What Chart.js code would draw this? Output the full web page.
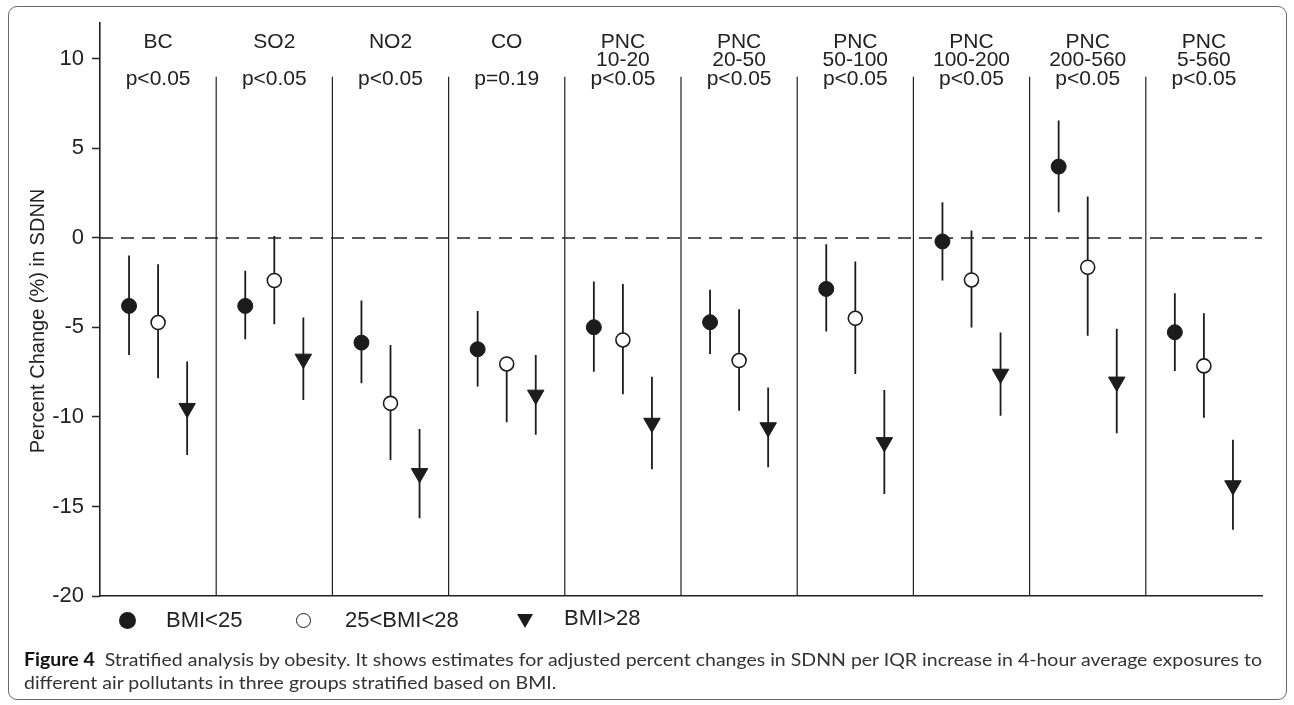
<!DOCTYPE html>
<html>
<head>
<meta charset="utf-8">
<script src="https://cdn.jsdelivr.net/npm/chart.js@4.4.1/dist/chart.umd.min.js"></script>
<style>
  html, body { margin: 0; padding: 0; background: #fff; }
  #wrap { position: relative; width: 1294px; height: 705px; overflow: hidden; background: #fff; }
  #c { position: absolute; left: 0; top: 0; }
  #frame { position: absolute; left: 8px; top: 6px; width: 1277px; height: 692px; border: 1.5px solid #6a6a6a; border-radius: 9px; pointer-events: none; }
  .lg { position: absolute; font-family: "Liberation Sans", Arial, sans-serif; font-size: 22px; color: #222; line-height: 22px; white-space: nowrap; }
  .mk { position: absolute; box-sizing: border-box; }
  .cap { position: absolute; left: 24px; font-family: Lato, "Open Sans", sans-serif; font-size: 18px; color: #333; white-space: nowrap; transform-origin: 0 50%; line-height: 20px; }
  .cap b { color: #111; }
</style>
</head>
<body>
<div id="wrap">
  <canvas id="c" width="1294" height="705"></canvas>
  <div class="mk" style="left:119px;top:612px;width:17px;height:17px;border-radius:50%;background:#1c1c1c;"></div>
  <div class="lg" style="left:166px;top:609px;">BMI&lt;25</div>
  <div class="mk" style="left:296px;top:613px;width:15px;height:15px;border-radius:50%;border:1.5px solid #1c1c1c;background:#fff;"></div>
  <div class="lg" style="left:345px;top:609px;">25&lt;BMI&lt;28</div>
  <div class="mk" style="left:517px;top:614px;width:0;height:0;border-left:8px solid transparent;border-right:8px solid transparent;border-top:14px solid #1c1c1c;"></div>
  <div class="lg" style="left:564px;top:607px;">BMI&gt;28</div>
  <div class="cap" id="cap1" style="top:649px;"><b>Figure 4</b>&nbsp; Stratified analysis by obesity. It shows estimates for adjusted percent changes in SDNN per IQR increase in 4-hour average exposures to</div>
  <div class="cap" id="cap2" style="top:672px;">different air pollutants in three groups stratified based on BMI.</div>
  <div id="frame"></div>
</div>
<script>
// ---- data ----
const pollutants = ['BC', 'SO2', 'NO2', 'CO', 'PNC', 'PNC', 'PNC', 'PNC', 'PNC', 'PNC'];
const sizeRanges = ['', '', '', '', '10-20', '20-50', '50-100', '100-200', '200-560', '5-560'];
const pValues = ['p<0.05', 'p<0.05', 'p<0.05', 'p=0.19', 'p<0.05', 'p<0.05', 'p<0.05', 'p<0.05', 'p<0.05', 'p<0.05'];
const groupLabels = ['BMI<25', '25<BMI<28', 'BMI>28'];
const yTitle = 'Percent Change (%) in SDNN';

const lowEst = [-3.8, -3.8, -5.85, -6.22, -4.99, -4.71, -2.85, -0.2, 3.98, -5.27];
const lowLo  = [-6.54, -5.66, -8.12, -8.3, -7.47, -6.48, -5.23, -2.38, 1.43, -7.43];
const lowHi  = [-0.99, -1.84, -3.5, -4.08, -2.44, -2.9, -0.35, 1.99, 6.55, -3.09];

const midEst = [-4.73, -2.38, -9.24, -7.04, -5.7, -6.85, -4.49, -2.35, -1.64, -7.15];
const midLo  = [-7.84, -4.82, -12.4, -10.3, -8.73, -9.66, -7.6, -5.01, -5.46, -10.04];
const midHi  = [-1.47, 0.1, -5.98, -6.8, -2.57, -3.98, -1.32, 0.41, 2.31, -4.21];

const highEst = [-9.51, -6.76, -13.15, -8.77, -10.34, -10.59, -11.42, -7.6, -8.04, -13.83];
const highLo  = [-12.12, -9.05, -15.66, -11.0, -12.92, -12.81, -14.3, -9.93, -10.91, -16.3];
const highHi  = [-6.9, -4.45, -10.67, -6.54, -7.75, -8.36, -8.49, -5.29, -5.08, -11.28];

const yTicks = [-20, -15, -10, -5, 0, 5, 10];
const yMin = -20, yMax = 12;
const separatorTop = 9;
const groupOffsets = [0.25, 0.5, 0.75];

// ---- build datasets ----
const INK = '#1c1c1c';
function pts(est, off) { return est.map((v, i) => ({ x: i + off, y: v })); }
function bars(lo, hi, off) {
  const out = [];
  lo.forEach((v, i) => { out.push({ x: i + off, y: v }, { x: i + off, y: hi[i] }, { x: i + off, y: null }); });
  return out;
}
const sepData = [];
for (let i = 1; i < pollutants.length; i++) {
  sepData.push({ x: i, y: separatorTop }, { x: i, y: yMin }, { x: i, y: null });
}

const datasets = [
  { label: groupLabels[0], data: pts(lowEst, groupOffsets[0]), pointStyle: 'circle', pointRadius: 7.5,
    backgroundColor: INK, borderColor: INK, borderWidth: 1, order: 0 },
  { label: groupLabels[1], data: pts(midEst, groupOffsets[1]), pointStyle: 'circle', pointRadius: 7,
    backgroundColor: '#fff', borderColor: INK, borderWidth: 1.6, order: 0 },
  { label: groupLabels[2], data: pts(highEst, groupOffsets[2]), pointStyle: 'triangle', rotation: 180, pointRadius: 9.5,
    backgroundColor: INK, borderColor: INK, borderWidth: 1, order: 0 },
  { label: 'ci1', data: bars(lowLo, lowHi, groupOffsets[0]), showLine: true, spanGaps: false, pointRadius: 0, borderColor: INK, borderWidth: 1.8, order: 1 },
  { label: 'ci2', data: bars(midLo, midHi, groupOffsets[1]), showLine: true, spanGaps: false, pointRadius: 0, borderColor: INK, borderWidth: 1.8, order: 1 },
  { label: 'ci3', data: bars(highLo, highHi, groupOffsets[2]), showLine: true, spanGaps: false, pointRadius: 0, borderColor: INK, borderWidth: 1.8, order: 1 },
  { label: 'sep', data: sepData, showLine: true, spanGaps: false, pointRadius: 0, borderColor: '#222', borderWidth: 1.2, order: 2 },
  { label: 'zero', data: [{ x: 0, y: 0 }, { x: pollutants.length, y: 0 }], showLine: true, pointRadius: 0,
    borderColor: '#222', borderWidth: 1.5, borderDash: [13, 8], order: 3 }
];

const panelTitles = {
  id: 'panelTitles',
  afterDatasetsDraw(chart) {
    const ctx = chart.ctx, xs = chart.scales.x, ys = chart.scales.y;
    ctx.save();
    ctx.font = '21px "Liberation Sans", Arial, sans-serif';
    ctx.fillStyle = '#222';
    ctx.textAlign = 'center';
    ctx.textBaseline = 'middle';
    pollutants.forEach((p, i) => {
      const cx = xs.getPixelForValue(i + 0.5);
      ctx.fillText(p, cx, 42);
      if (sizeRanges[i]) ctx.fillText(sizeRanges[i], cx, 60.5);
      ctx.fillText(pValues[i], cx, 79);
    });
    // y axis title
    ctx.font = '20px "Liberation Sans", Arial, sans-serif';
    ctx.translate(38, 321);
    ctx.rotate(-Math.PI / 2);
    ctx.fillText(yTitle, 0, 0);
    ctx.restore();
  }
};

new Chart(document.getElementById('c'), {
  type: 'scatter',
  data: { datasets },
  options: {
    responsive: false,
    animation: false,
    devicePixelRatio: 1,
    layout: { padding: { left: 0, right: 32, top: 23, bottom: 109 } },
    plugins: { legend: { display: false }, tooltip: { enabled: false } },
    scales: {
      x: {
        type: 'linear', min: 0, max: pollutants.length,
        ticks: { display: false },
        grid: { display: false },
        border: { display: true, color: '#222', width: 1.6 },
        afterFit(s) { s.height = 0; }
      },
      y: {
        type: 'linear', min: yMin, max: yMax,
        afterBuildTicks(s) { s.ticks = yTicks.map(v => ({ value: v })); },
        afterFit(s) { s.width = 100; },
        ticks: { font: { family: '"Liberation Sans", Arial, sans-serif', size: 22 }, color: '#222', padding: 8 },
        grid: { drawOnChartArea: false, drawTicks: true, tickLength: 8, tickColor: '#222', tickWidth: 1.5 },
        border: { display: true, color: '#222', width: 1.6 },
        title: { display: false }
      }
    }
  },
  plugins: [panelTitles]
});

// fit caption width
function fitCaption() {
  const c1 = document.getElementById('cap1'), c2 = document.getElementById('cap2');
  c1.style.transform = 'none';
  const w = c1.getBoundingClientRect().width;
  const s = 1238 / w;
  c1.style.transform = 'scaleX(' + s + ')';
  c2.style.transform = 'scaleX(' + s + ')';
}
fitCaption();
if (document.fonts && document.fonts.ready) document.fonts.ready.then(fitCaption);
</script>
</body>
</html>
